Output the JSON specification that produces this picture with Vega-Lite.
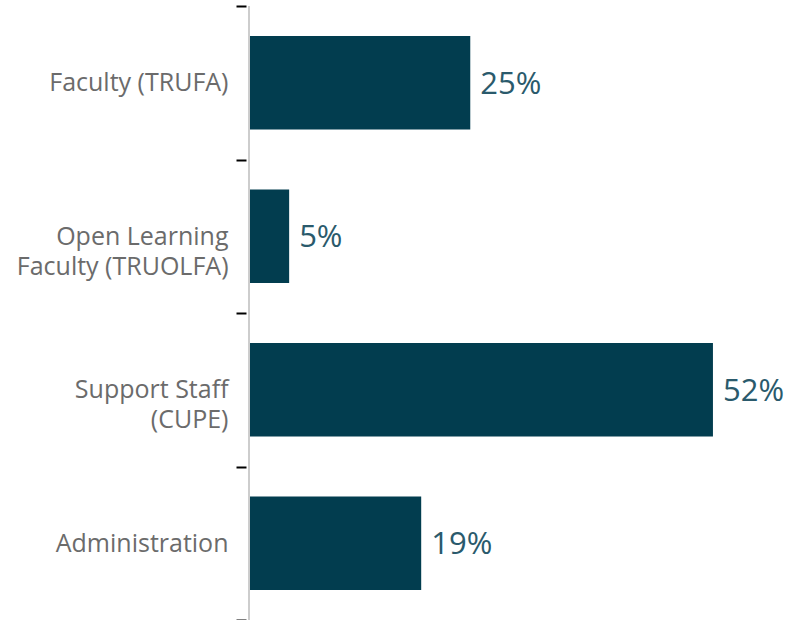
{
  "$schema": "https://vega.github.io/schema/vega-lite/v6.json",
  "width": 538,
  "height": 614,
  "autosize": "none",
  "padding": {"left": 249, "top": 6, "right": 0, "bottom": 0},
  "background": "white",
  "config": {"view": {"stroke": null}},
  "data": {
    "values": [
      {"group": "Faculty (TRUFA)", "share": 0.248},
      {"group": "Open Learning|Faculty (TRUOLFA)", "share": 0.045},
      {"group": "Support Staff|(CUPE)", "share": 0.52},
      {"group": "Administration", "share": 0.193}
    ]
  },
  "layer": [
    {
      "mark": {"type": "bar", "color": "#023d4f", "height": {"band": 0.61}},
      "encoding": {
        "x": {"field": "share", "type": "quantitative", "scale": {"domain": [0, 0.603], "nice": false}, "axis": null},
        "y": {
          "field": "group",
          "type": "nominal",
          "sort": null,
          "scale": {"paddingInner": 0, "paddingOuter": 0},
          "axis": {
            "title": null,
            "domain": false,
            "offset": 3,
            "tickBand": "extent",
            "tickColor": "#000000",
            "tickWidth": 2,
            "tickSize": 10,
            "labelPadding": 8,
            "labelLimit": 300,
            "labelFont": "Open Sans",
            "labelFontSize": 25,
            "labelColor": "#6b6b6b",
            "labelLineHeight": 30,
            "labelExpr": "split(datum.label, '|')"
          }
        }
      }
    },
    {
      "mark": {"type": "rule", "color": "#cccccc", "strokeWidth": 1.5},
      "encoding": {
        "x": {"datum": 0, "type": "quantitative"}
      }
    },
    {
      "mark": {"type": "text", "align": "left", "baseline": "middle", "dx": 10, "dy": 2, "font": "Open Sans", "fontSize": 31, "color": "#2a5a6c"},
      "encoding": {
        "x": {"field": "share", "type": "quantitative"},
        "y": {"field": "group", "type": "nominal", "sort": null},
        "text": {"field": "share", "type": "quantitative", "format": ".0%"}
      }
    }
  ]
}
